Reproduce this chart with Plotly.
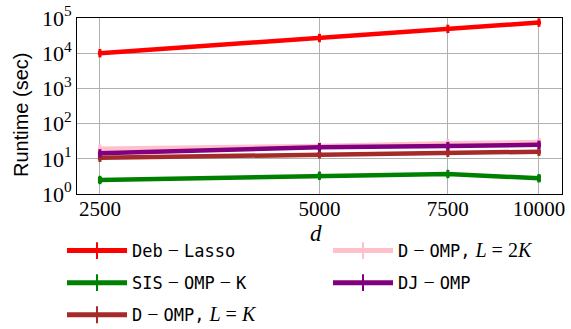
import plotly.graph_objects as go

d = [2500, 5000, 7500, 10000]
x_ticks = ["2500", "5000", "7500", "10000"]
y_tickvals = [1, 10, 100, 1000, 10000, 100000]
y_ticktext = ["10<sup>0</sup>", "10<sup>1</sup>", "10<sup>2</sup>", "10<sup>3</sup>", "10<sup>4</sup>", "10<sup>5</sup>"]

deb_lasso = [1.0e4, 2.7e4, 4.9e4, 7.4e4]
deb_lasso_err = [300, 600, 900, 1500]
sis_omp_k = [2.5, 3.3, 3.7, 2.8]
sis_omp_k_err = [0.25, 0.15, 0.15, 0.3]
d_omp_k = [10.7, 13.4, 14.9, 15.9]
d_omp_k_err = [0.6, 0.8, 0.8, 0.6]
d_omp_2k = [19.4, 23.0, 27.5, 30.0]
d_omp_2k_err = [1.0, 1.2, 1.5, 2.5]
dj_omp = [14.3, 21.3, 23.0, 25.0]
dj_omp_err = [0.6, 1.2, 1.2, 1.5]

MONO = "DejaVu Sans Mono"
SERIF = "Liberation Serif, Times New Roman, Times, serif"
SANS = "Liberation Sans, Arial, Helvetica, sans-serif"

def mono(s):
    return f'<span style="font-family:{MONO}">{s}</span>'

def serif(s):
    return f'<span style="font-family:Liberation Serif;font-size:20px">{s}</span>'

M = serif(" − ")
names = [
    mono("Deb") + M + mono("Lasso"),
    mono("SIS") + M + mono("OMP") + M + mono("K"),
    mono("D") + M + mono("OMP,") + serif(" <i>L</i> = <i>K</i>"),
    mono("D") + M + mono("OMP,") + serif(" <i>L</i> = 2<i>K</i>"),
    mono("DJ") + M + mono("OMP"),
]
series = [deb_lasso, sis_omp_k, d_omp_k, d_omp_2k, dj_omp]
errs = [deb_lasso_err, sis_omp_k_err, d_omp_k_err, d_omp_2k_err, dj_omp_err]
colors = ["#ff0000", "#008000", "#a52a2a", "#ffc0cb", "#800080"]
legends = ["legend", "legend", "legend", "legend2", "legend2"]

fig = go.Figure()
for i, (nm, ys, er, c, lg) in enumerate(zip(names, series, errs, colors, legends)):
    fig.add_trace(go.Scatter(
        x=d, y=ys, name=nm, mode="lines+markers",
        line=dict(color=c, width=4.5),
        marker=dict(symbol="line-ns", size=6, color=c, line=dict(color=c, width=3)),
        error_y=dict(type="data", array=er, visible=True, color=c, thickness=3, width=2),
        legend=lg, legendgroup=f"g{i}",
    ))

PL, PR, PT, PB = 77, 562, 18, 194
def px_x(px):
    return (px - PL) / (PR - PL)
def px_y(py):
    return (PB - py) / (PB - PT)

leg_common = dict(
    xanchor="left", yanchor="top", font=dict(size=17, family=MONO),
    tracegroupgap=7, itemwidth=60, itemsizing="constant", bgcolor="rgba(0,0,0,0)",
)
fig.update_layout(
    width=571, height=329,
    margin=dict(l=PL, r=571 - PR, t=PT, b=329 - PB, autoexpand=False),
    plot_bgcolor="white", paper_bgcolor="white",
    font=dict(family=SERIF, size=21, color="black"),
    showlegend=True,
    legend=dict(x=px_x(62), y=px_y(233), **leg_common),
    legend2=dict(x=px_x(328), y=px_y(233), **leg_common),
    annotations=[
        dict(
            text="<i>d</i>", xref="paper", yref="paper", x=px_x(316), y=px_y(233),
            xanchor="center", yanchor="middle", showarrow=False,
            font=dict(family=SERIF, size=23, color="black"),
        ),
        dict(
            text="Runtime (sec)", xref="paper", yref="paper", x=px_x(21), y=px_y(115),
            xanchor="center", yanchor="middle", showarrow=False, textangle=-90,
            font=dict(family=SANS, size=20, color="black"),
        ),
    ],
)

fig.update_xaxes(
    type="log", range=[3.3665, 4.0316], automargin=False,
    tickvals=d, ticktext=x_ticks,
    showgrid=True, gridcolor="#b0b0b0", gridwidth=1,
    showline=True, linecolor="black", linewidth=1, mirror=True,
    ticks="", tickfont=dict(family=SERIF, size=21), ticklabelstandoff=-4,
)
fig.update_yaxes(
    type="log", range=[0, 5], automargin=False,
    tickvals=y_tickvals, ticktext=y_ticktext,
    showgrid=True, gridcolor="#b0b0b0", gridwidth=1,
    showline=True, linecolor="black", linewidth=1, mirror=True,
    ticks="", tickfont=dict(family=SERIF, size=22),
)

fig.write_html("out.html", config={"displayModeBar": False},
               post_script="document.body.style.margin='0';")
